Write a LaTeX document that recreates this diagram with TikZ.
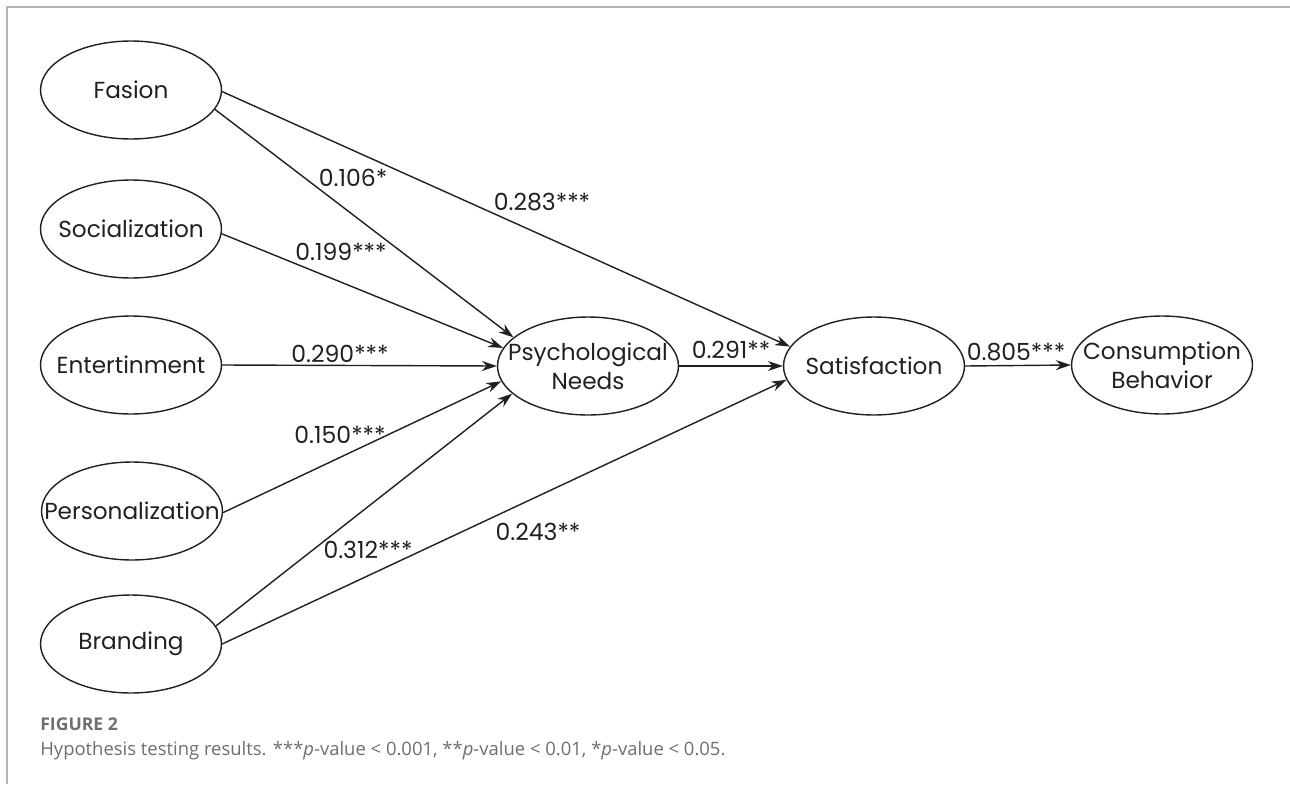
\documentclass[tikz,border=0pt]{standalone}
\usepackage{fontspec}
\setmainfont{Poppins}
\newfontfamily\capfont{Open Sans}
\usetikzlibrary{arrows.meta}
\usetikzlibrary{shapes}

\definecolor{ink}{HTML}{231F20}
\definecolor{framegray}{HTML}{B5B5B5}
\definecolor{capgray}{HTML}{6D6E71}

\tikzset{
  latent/.style={ellipse,draw=ink,line width=0.8pt,minimum width=3.62cm,minimum height=1.96cm,inner sep=0pt},
  latenttext/.style={align=center,text=ink,font=\fontsize{13.2}{16.5}\selectfont},
  effect/.style={draw=ink,line width=0.8pt,-{Stealth[length=3mm,width=2mm]}},
  coef/.style={text=ink,inner sep=0pt,font=\fontsize{13.4}{16}\selectfont}
}

\begin{document}
\begin{tikzpicture}[x=0.02cm,y=-0.02cm]
\useasboundingbox (0,0) rectangle (1290,784);
\draw[framegray,line width=0.8pt] (7,784) -- (7,7) -- (1290,7);

\node(F) at (131,90) [latent,label={[latenttext]center:Fasion}]{};
\node(S) at (131,229) [latent,label={[latenttext]center:Socialization}]{};
\node(E) at (131,365) [latent,label={[latenttext]center:Entertinment}]{};
\node(P) at (132,511) [latent,label={[latenttext]center:Personalization}]{};
\node(B) at (131,644) [latent,label={[latenttext]center:Branding}]{};
\node(N) at (588,366) [latent,label={[latenttext]center:Psychological\\Needs}]{};
\node(T) at (874,366) [latent,label={[latenttext]center:Satisfaction}]{};
\node(C) at (1162,365) [latent,label={[latenttext]center:Consumption\\Behavior}]{};

\draw[effect] (F.-13) -- (N.159);
\draw[effect] (F.-1) -- (T.167);
\draw[effect] (S.-3) -- (N.168);
\draw[effect] (E.east) -- (N.west);
\draw[effect] (P.-1) -- (N.190);
\draw[effect] (B.12) -- (N.200);
\draw[effect] (B.0) -- (T.189);
\draw[effect] (N.east) -- (T.west);
\draw[effect] (T.east) -- (C.west);

\node(cFN) at (353,178) [coef]{0.106*};
\node(cFT) at (542,202) [coef]{0.283***};
\node(cSN) at (341,252) [coef]{0.199***};
\node(cEN) at (340,354) [coef]{0.290***};
\node(cPN) at (340,435) [coef]{0.150***};
\node(cBN) at (368,550) [coef]{0.312***};
\node(cBT) at (538,532) [coef]{0.243**};
\node(cNT) at (731,350) [coef]{0.291**};
\node(cTC) at (1016,352) [coef]{0.805***};

\node(figno) at (40,730) [anchor=base west,inner sep=0pt,text=capgray,font=\capfont\bfseries\fontsize{10}{12}\selectfont]{FIGURE 2};
\node(caption) at (40,755) [anchor=base west,inner sep=0pt,text=capgray,font=\capfont\fontsize{10.5}{12.5}\selectfont]{Hypothesis testing results. ***\textit{p}-value < 0.001, **\textit{p}-value < 0.01, *\textit{p}-value < 0.05.};
\end{tikzpicture}
\end{document}
